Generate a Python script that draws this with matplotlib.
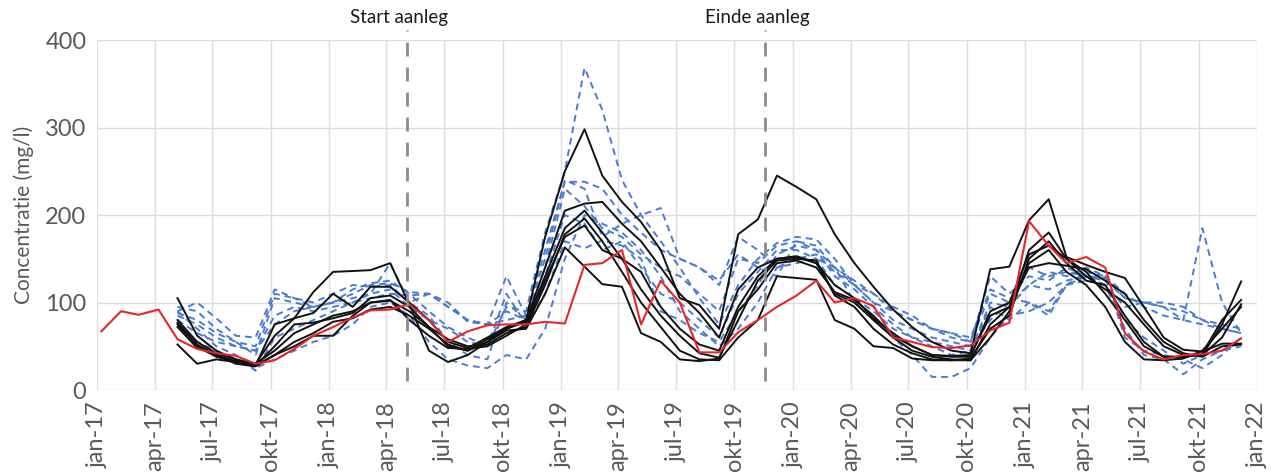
import matplotlib
matplotlib.use("Agg")
import matplotlib.pyplot as plt
import numpy as np
import pandas as pd

nan = np.nan

# sample dates: one measurement per month (around the 7th)
dates = pd.date_range("2017-01-01", periods=60, freq="MS") + pd.Timedelta(days=6)

# red reference well
red = [67, 90, 86, 92, 58, 47, 42, 39, 30, 34, 47, 62, 72, 83, 91, 92,
       98, 80, 55, 67, 74, 75, 75, 78, 76, 143, 145, 160, 75, 125, 100, 43,
       43, 66, 80, 95, 108, 125, 100, 105, 96, 60, 55, 49, 48, 51, 68, 77,
       193, 165, 145, 152, 140, 65, 44, 35, 40, 41, 45, 59]

# black lines (monitoring wells)
black_a = [nan] * 4 + [105, 62, 45, 35, 30,
           62, 82, 112, 135, 136, 137, 145,
           98, 45, 32, 40, 55, 70, 80,
           175, 250, 298, 245, 215, 192, 160, 105, 97, 70,
           178, 195, 245, 232, 218, 178, 145, 118, 92, 72, 55, 45, 42,
           138, 141, 194, 218, 152, 143, 135, 128, 95, 60, 46, 44, 53, 53]
black_b = [nan] * 4 + [80, 55, 42, 35, 28,
           75, 82, 88, 110, 95, 118, 118,
           100, 80, 55, 48, 60, 72, 80,
           140, 205, 213, 215, 190, 170, 140, 110, 88, 60,
           115, 140, 150, 152, 145, 110, 100, 80, 60, 45, 38, 35, 34,
           60, 90, 160, 180, 150, 130, 115, 100, 75, 50, 40, 40, 75, 124]
black_c = [nan] * 4 + [77, 52, 40, 33, 28,
           50, 75, 77, 82, 88, 105, 108,
           95, 72, 50, 45, 58, 70, 78,
           130, 185, 205, 180, 150, 115, 85, 62, 42, 37,
           80, 125, 148, 150, 148, 108, 95, 70, 52, 42, 35, 34, 36,
           70, 85, 150, 170, 145, 125, 120, 85, 55, 38, 37, 42, 80, 103]
black_d = [nan] * 4 + [75, 50, 38, 32, 30,
           45, 65, 75, 85, 90, 100, 102,
           90, 72, 58, 50, 52, 65, 72,
           120, 178, 196, 170, 135, 100, 72, 45, 35, 34,
           60, 80, 130, 128, 126, 80, 70, 50, 48, 36, 34, 34, 34,
           75, 95, 145, 160, 135, 120, 95, 55, 35, 34, 36, 45, 70, 95]
black_e = [nan] * 4 + [72, 48, 40, 30, 27,
           40, 55, 65, 78, 82, 92, 95,
           85, 70, 52, 45, 55, 68, 70,
           110, 163, 141, 121, 118, 65, 55, 35, 33, 36,
           90, 115, 145, 148, 140, 112, 103, 85, 62, 50, 40, 39, 40,
           85, 95, 140, 145, 142, 138, 125, 110, 80, 55, 42, 38, 50, 52]
black_f = [nan] * 4 + [52, 30, 35, 32, 28,
           40, 50, 62, 62, 85, 100, 103,
           80, 62, 48, 47, 50, 62, 75,
           125, 175, 188, 160, 150, 135, 95, 70, 52, 45,
           95, 130, 150, 153, 145, 120, 105, 82, 65, 50, 40, 38, 38,
           90, 100, 155, 165, 150, 135, 110, 80, 50, 38, 38, 40, 60, 98]

# blue dashed lines (other wells)
blue_1 = [nan] * 4 + [95, 90, 70, 55, 40,
          105, 100, 95, 100, 115, 122, 125,
          110, 90, 72, 60, 50, 95, 90,
          180, 250, 368, 320, 240, 200, 170, 140, 105, 75,
          120, 150, 168, 175, 172, 150, 120, 100, 80, 70, 60, 55, 50,
          80, 100, 120, 135, 130, 140, 130, 110, 95, 85, 80, 75, 70, 65]
blue_2 = [nan] * 4 + [90, 100, 82, 62, 60,
          115, 105, 95, 100, 110, 120, 122,
          112, 110, 95, 80, 75, 80, 85,
          160, 238, 238, 230, 200, 180, 160, 150, 140, 125,
          155, 140, 130, 170, 165, 140, 120, 110, 95, 85, 70, 65, 55,
          110, 100, 140, 130, 135, 130, 125, 105, 100, 100, 95, 80, 75, 70]
blue_3 = [nan] * 4 + [85, 75, 60, 50, 45,
          85, 95, 90, 95, 100, 105, 110,
          108, 110, 100, 78, 75, 130, 85,
          150, 240, 230, 175, 190, 200, 208, 150, 140, 120,
          175, 160, 140, 150, 155, 135, 120, 100, 90, 80, 70, 60, 55,
          130, 110, 130, 125, 140, 130, 120, 95, 100, 95, 90, 80, 70, 65]
blue_4 = [nan] * 4 + [80, 65, 55, 50, 45,
          75, 90, 95, 100, 105, 110, 115,
          95, 80, 70, 55, 50, 110, 75,
          110, 170, 162, 171, 165, 150, 90, 80, 65, 55,
          90, 120, 155, 165, 160, 130, 115, 95, 75, 60, 50, 40, 45,
          100, 95, 120, 115, 125, 130, 120, 80, 60, 45, 30, 40, 45, 50]
blue_5 = [nan] * 4 + [75, 55, 45, 35, 25,
          35, 45, 55, 62, 75, 95, 100,
          85, 55, 35, 28, 25, 40, 35,
          70, 150, 200, 190, 180, 160, 130, 90, 70, 50,
          70, 100, 140, 145, 150, 140, 100, 80, 60, 40, 15, 15, 25,
          60, 85, 90, 100, 120, 125, 120, 70, 40, 35, 18, 35, 45, 55]
blue_6 = [nan] * 4 + [90, 70, 50, 40, 22,
          60, 70, 80, 90, 100, 110, 145,
          100, 85, 55, 40, 35, 100, 80,
          130, 200, 190, 160, 170, 140, 110, 100, 80, 60,
          110, 135, 160, 160, 150, 120, 105, 90, 70, 60, 55, 50, 45,
          95, 80, 100, 90, 120, 135, 130, 60, 45, 40, 35, 25, 40, 60]
blue_7 = [nan] * 4 + [88, 80, 65, 55, 50,
          110, 105, 100, 110, 120, 118, 120,
          100, 110, 95, 80, 75, 90, 80,
          140, 230, 210, 185, 175, 155, 140, 130, 110, 90,
          150, 145, 165, 170, 160, 140, 125, 110, 90, 80, 70, 65, 60,
          115, 105, 100, 85, 120, 130, 128, 105, 100, 95, 80, 185, 100, 65]

black_lines = [black_a, black_b, black_c, black_d, black_e, black_f]
blue_lines = [blue_1, blue_2, blue_3, blue_4, blue_5, blue_6, blue_7]

events = [pd.Timestamp("2018-05-03"), pd.Timestamp("2019-11-18")]
event_labels = ["Start aanleg", "Einde aanleg"]

tick_dates = pd.date_range("2017-01-01", "2022-01-01", freq="QS")
month_nl = {1: "jan", 4: "apr", 7: "jul", 10: "okt"}
tick_labels = [f"{month_nl[d.month]}-{d.strftime('%y')}" for d in tick_dates]

plt.rcParams["font.family"] = ["Lato", "DejaVu Sans"]

fig = plt.figure(figsize=(12.76, 4.72), dpi=100)
ax = fig.add_axes([0.0764, 0.1737, 0.9087, 0.7415])

for vals in blue_lines:
    ax.plot(dates, vals, color="#4a7bd0", lw=1.4, ls=(0, (3.5, 2.5)), zorder=2)
for vals in black_lines:
    ax.plot(dates, vals, color="#111111", lw=1.4, zorder=3)
ax.plot(dates, red, color="#e8252b", lw=1.5, zorder=4)

for d, lab in zip(events, event_labels):
    ax.plot([d, d], [10, 412], color="#8c8c8c", lw=2, ls=(0, (5, 4)),
            clip_on=False, zorder=5)
    ax.text(d - pd.Timedelta(days=12), 416, lab, ha="center", va="bottom",
            fontsize=13.5, color="#1a1a1a")

ax.set_xlim(pd.Timestamp("2017-01-01"), pd.Timestamp("2022-01-01"))
ax.set_ylim(0, 400)
ax.set_yticks([0, 100, 200, 300, 400])
ax.set_xticks(tick_dates)
ax.set_xticklabels(tick_labels, rotation=90, fontsize=17, color="#595959")
ax.tick_params(axis="y", labelsize=17, labelcolor="#595959")
ax.tick_params(length=0, pad=8)
ax.set_ylabel("Concentratie (mg/l)", fontsize=15, color="#595959", labelpad=8)

ax.grid(True, color="#dedede", lw=1)
ax.set_axisbelow(True)
for s in ax.spines.values():
    s.set_visible(False)

fig.savefig("out.png", dpi=100)
